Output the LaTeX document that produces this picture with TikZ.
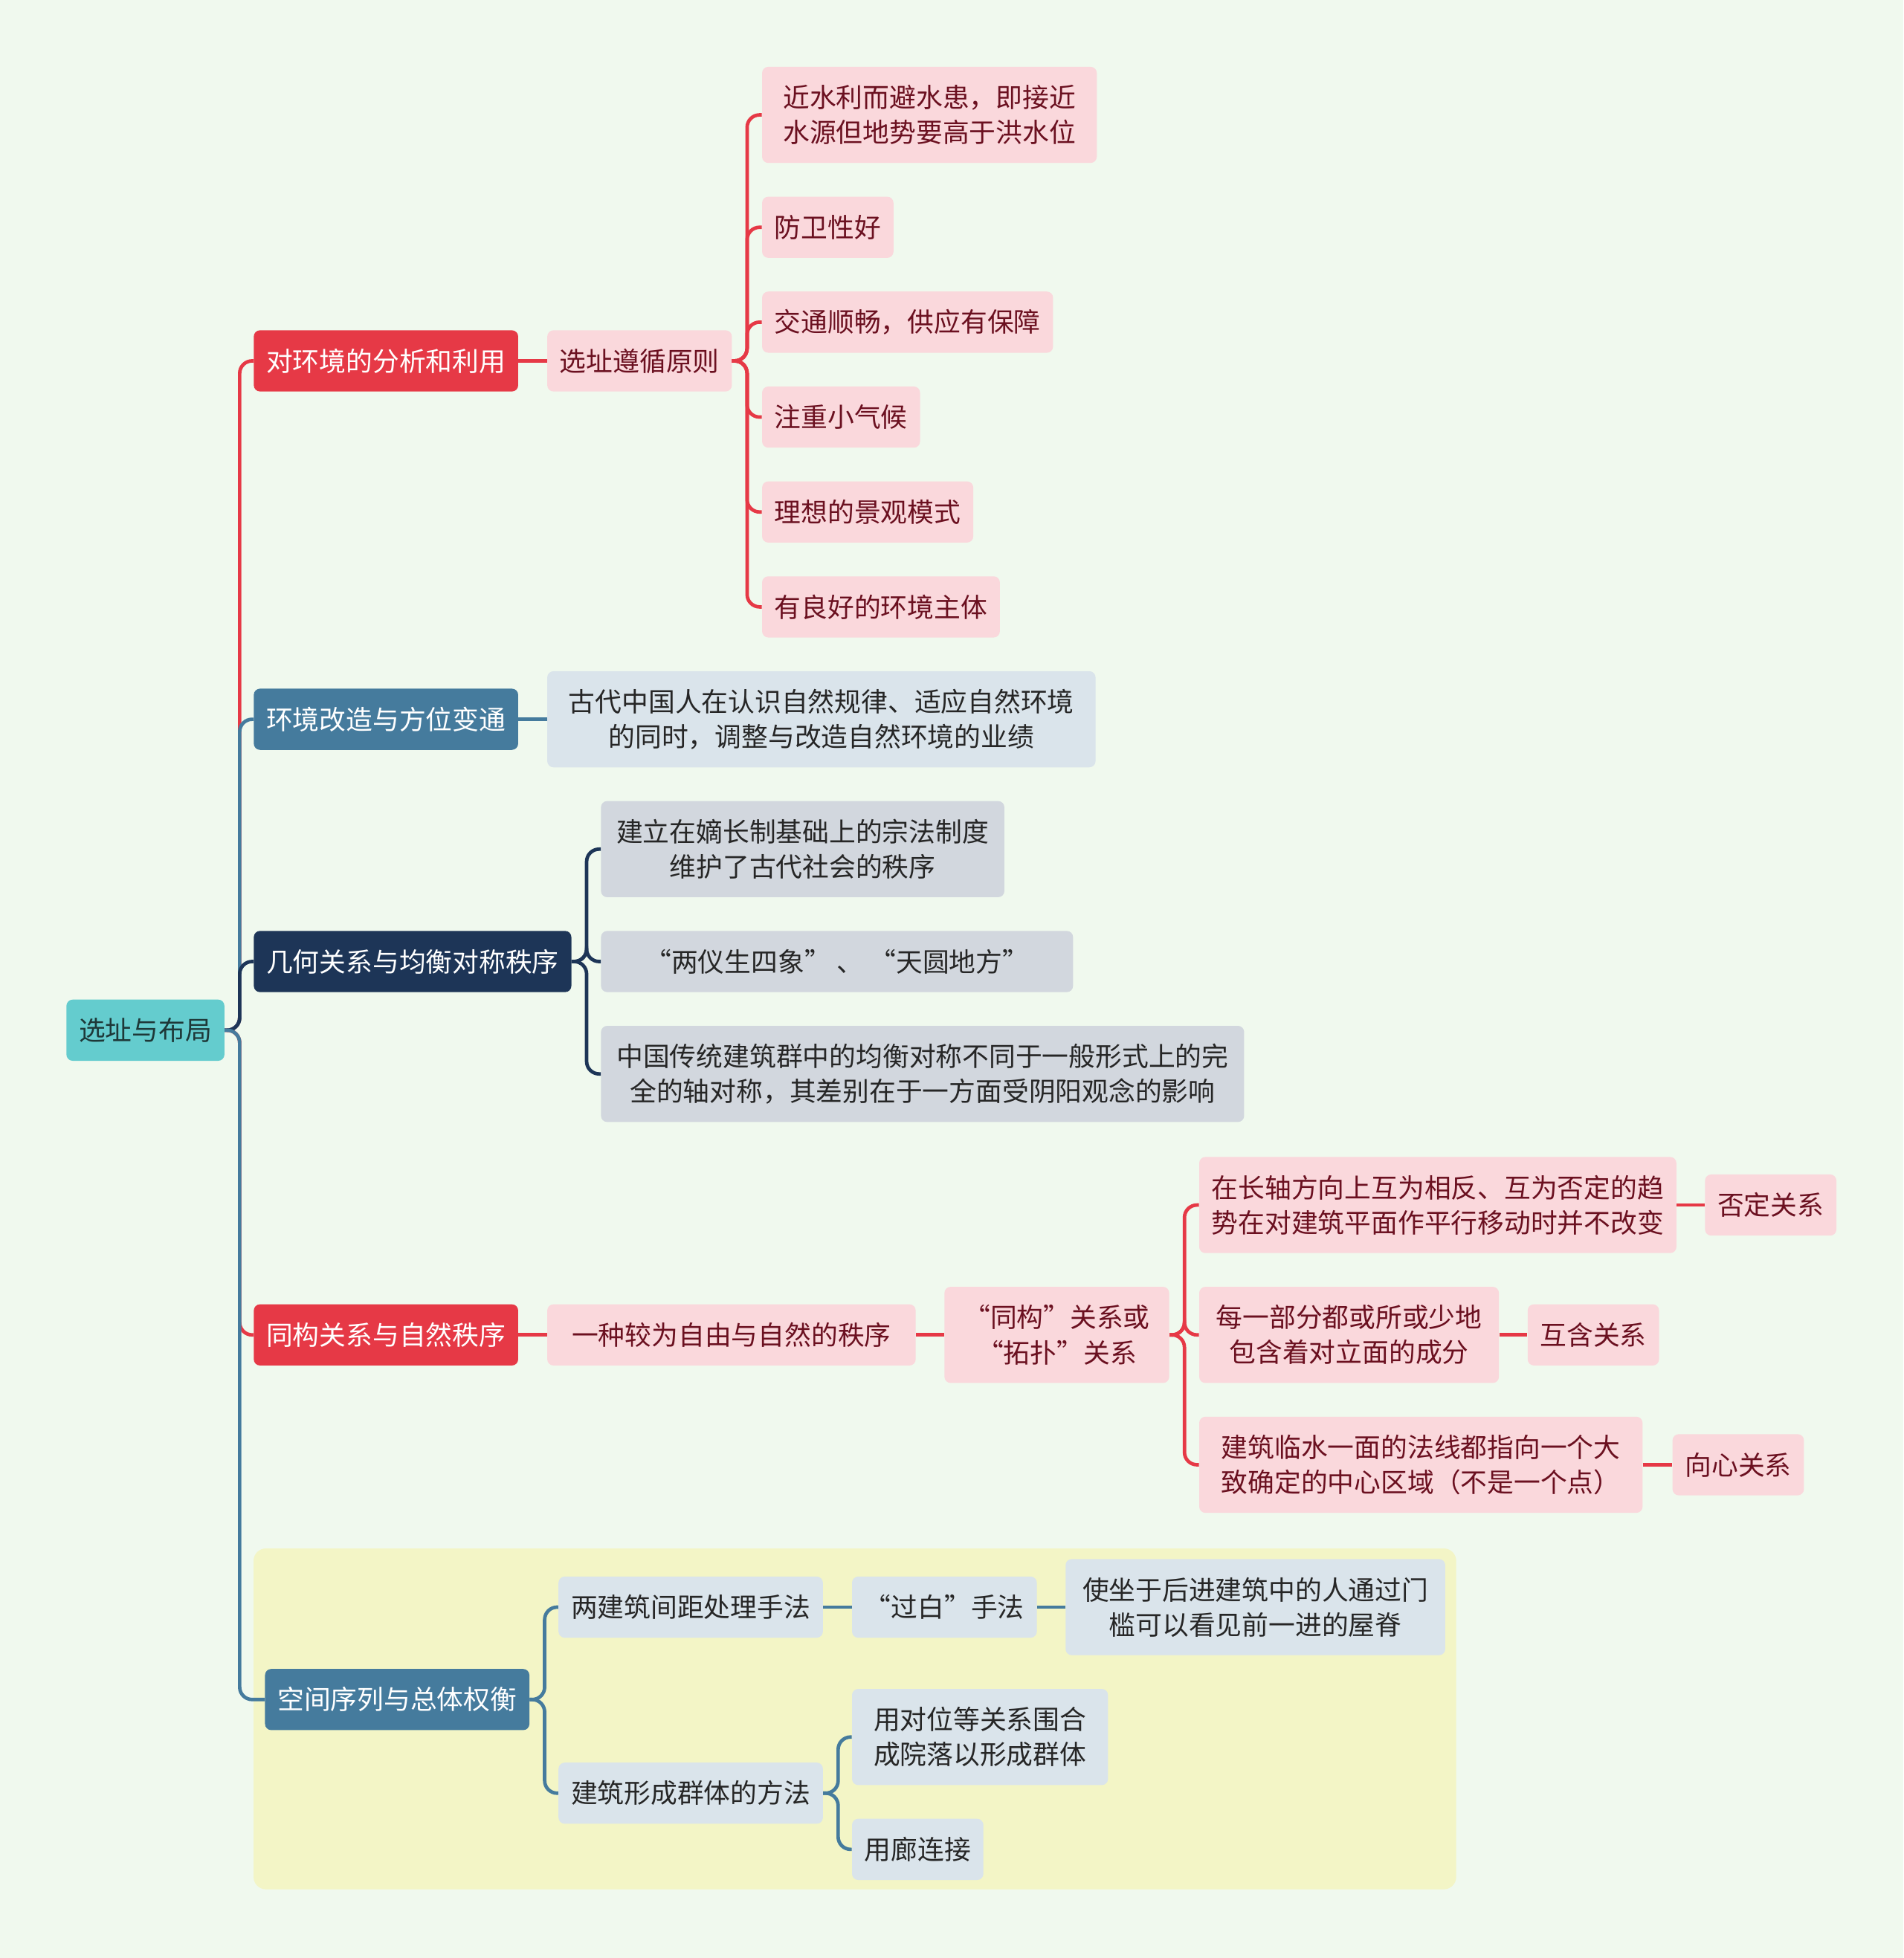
\documentclass[tikz,border=0pt]{standalone}
\usepackage{fontspec}
\newfontfamily\cjk{Noto Sans CJK SC}
\usepackage{tikz}
\usetikzlibrary{calc}
\definecolor{bgc}{HTML}{F0F9EE}
\definecolor{rootc}{HTML}{64CCCE}
\definecolor{roottxt}{HTML}{1E3838}
\definecolor{redc}{HTML}{E63946}
\definecolor{bluec}{HTML}{457B9D}
\definecolor{navyc}{HTML}{1D3557}
\definecolor{pinkc}{HTML}{FAD8DC}
\definecolor{redtxt}{HTML}{6B1020}
\definecolor{lbluec}{HTML}{DAE4EB}
\definecolor{lgrayc}{HTML}{D2D7DE}
\definecolor{yellowc}{HTML}{F3F5C6}

\tikzset{
	box/.style={rounded corners=5pt, inner xsep=10pt, inner ysep=3pt, minimum height=49pt,
		align=center, anchor=west, font=\cjk\fontsize{21.3}{28}\selectfont},
	twoline/.style={minimum height=77pt},
	rootbox/.style={box, fill=rootc, text=roottxt},
	redmain/.style={box, fill=redc, text=white},
	bluemain/.style={box, fill=bluec, text=white},
	navymain/.style={box, fill=navyc, text=white},
	redsub/.style={box, fill=pinkc, text=redtxt},
	bluesub/.style={box, fill=lbluec, text=black!85},
	graysub/.style={box, fill=lgrayc, text=black!85},
	link/.style={line width=2.8pt, rounded corners=10pt},
}
\newcommand\conn[3]{\draw[link,#1] (#2.east) -- ++(12,0) |- (#3.west);}

\begin{document}
\begin{tikzpicture}[x=1pt, y=-1pt]

	\fill[bgc] (0,0) rectangle (1524,1568);
	\fill[yellowc, rounded corners=10pt] (203,1240) rectangle (1166,1513);

	\node[rootbox] (root) at (53,825) {选址与布局};

	% first branch
	\node[redmain] (huanjing) at (203,289) {对环境的分析和利用};
	\node[redsub] (xuanzhi) at (438,289) {选址遵循原则};
	\node[redsub, twoline, minimum width=268pt] (s1) at (610,92) {近水利而避水患，即接近\\水源但地势要高于洪水位};
	\node[redsub] (s2) at (610,182) {防卫性好};
	\node[redsub] (s3) at (610,258) {交通顺畅，供应有保障};
	\node[redsub] (s4) at (610,334) {注重小气候};
	\node[redsub] (s5) at (610,410) {理想的景观模式};
	\node[redsub] (s6) at (610,486) {有良好的环境主体};

	% second branch
	\node[bluemain] (gaizao) at (203,576) {环境改造与方位变通};
	\node[bluesub, twoline, minimum width=439pt] (yeji) at (438,576) {古代中国人在认识自然规律、适应自然环境\\的同时，调整与改造自然环境的业绩};

	% third branch
	\node[navymain] (jihe) at (203,770) {几何关系与均衡对称秩序};
	\node[graysub, twoline, minimum width=323pt] (zongfa) at (481,680) {建立在嫡长制基础上的宗法制度\\维护了古代社会的秩序};
	\node[graysub, minimum width=378pt] (liangyi) at (481,770) {“两仪生四象” 、 “天圆地方”};
	\node[graysub, twoline, minimum width=515pt] (junheng) at (481,860) {中国传统建筑群中的均衡对称不同于一般形式上的完\\全的轴对称，其差别在于一方面受阴阳观念的影响};

	% fourth branch
	\node[redmain] (tonggou) at (203,1069) {同构关系与自然秩序};
	\node[redsub, minimum width=295pt] (ziyou) at (438,1069) {一种较为自由与自然的秩序};
	\node[redsub, twoline, minimum width=180pt] (tuopu) at (756,1069) {“同构”关系或\\“拓扑”关系};
	\node[redsub, twoline, minimum width=381pt] (fd) at (960,965) {在长轴方向上互为相反、互为否定的趋\\势在对建筑平面作平行移动时并不改变};
	\node[redsub] (fdR) at (1365,965) {否定关系};
	\node[redsub, twoline, minimum width=240pt] (hh) at (960,1069) {每一部分都或所或少地\\包含着对立面的成分};
	\node[redsub] (hhR) at (1223,1069) {互含关系};
	\node[redsub, twoline, minimum width=355pt] (xx) at (960,1173) {建筑临水一面的法线都指向一个大\\致确定的中心区域（不是一个点）};
	\node[redsub] (xxR) at (1339,1173) {向心关系};

	% fifth branch
	\node[bluemain] (kongjian) at (212,1361) {空间序列与总体权衡};
	\node[bluesub] (jianju) at (447,1287) {两建筑间距处理手法};
	\node[bluesub, minimum width=148pt] (guobai) at (682,1287) {“过白”手法};
	\node[bluesub, twoline, minimum width=304pt] (wuji) at (853,1287) {使坐于后进建筑中的人通过门\\槛可以看见前一进的屋脊};
	\node[bluesub] (qunti) at (447,1436) {建筑形成群体的方法};
	\node[bluesub, twoline, minimum width=205pt] (weihe) at (682,1391) {用对位等关系围合\\成院落以形成群体};
	\node[bluesub] (lang) at (682,1481) {用廊连接};

	% connectors
	\conn{redc}{root}{huanjing}
	\conn{redc}{root}{tonggou}
	\conn{bluec}{root}{gaizao}
	\conn{navyc}{root}{jihe}
	\conn{bluec}{root}{kongjian}

	\draw[link, redc] (huanjing) -- (xuanzhi);
	\foreach \n in {s1,s2,s3,s4,s5,s6}{
		\conn{redc}{xuanzhi}{\n}
	}

	\draw[link, bluec] (gaizao) -- (yeji);

	\foreach \n in {zongfa,liangyi,junheng}{
		\conn{navyc}{jihe}{\n}
	}

	\draw[link, redc] (tonggou) -- (ziyou);
	\draw[link, redc] (ziyou) -- (tuopu);
	\foreach \n in {fd,hh,xx}{
		\conn{redc}{tuopu}{\n}
	}
	\draw[link, redc] (fd) -- (fdR);
	\draw[link, redc] (hh) -- (hhR);
	\draw[link, redc] (xx) -- (xxR);

	\conn{bluec}{kongjian}{jianju}
	\conn{bluec}{kongjian}{qunti}
	\draw[link, bluec] (jianju) -- (guobai);
	\draw[link, bluec] (guobai) -- (wuji);
	\conn{bluec}{qunti}{weihe}
	\conn{bluec}{qunti}{lang}

\end{tikzpicture}
\end{document}
